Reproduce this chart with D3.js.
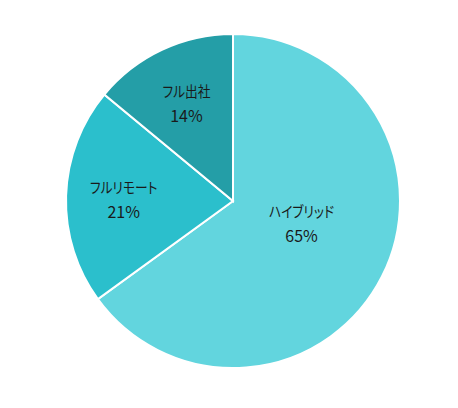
<!DOCTYPE html>
<html>
<head>
<meta charset="utf-8">
<script src="https://cdn.jsdelivr.net/npm/d3@7"></script>
<style>
  body { margin: 0; background: #fff; }
  text { font-family: "Noto Sans CJK JP", "Noto Sans", sans-serif; font-feature-settings: "palt" 1; }
</style>
</head>
<body>
<div id="chart"></div>
<script>
const categories = ["ハイブリッド", "フルリモート", "フル出社"]
const values = [65, 21, 14]
const colors = ["#62d5de", "#2bbfcc", "#249ea7"]

const WIDTH = 458
const HEIGHT = 408
const CX = 233
const CY = 201
const R = 167

const svg = d3.select("#chart")
  .append("svg")
    .attr("width", WIDTH)
    .attr("height", HEIGHT)

const g = svg.append("g")
  .attr("transform", `translate(${CX}, ${CY})`)

const pie = d3.pie()
  .sort(null)
  .value(d => d.value)

const data = categories.map((c, i) => ({ name: c, value: values[i], color: colors[i] }))
const arcs = pie(data)

const arc = d3.arc().innerRadius(0).outerRadius(R)

g.selectAll("path")
  .data(arcs)
  .enter().append("path")
    .attr("d", arc)
    .attr("fill", d => d.data.color)
    .attr("stroke", "#fff")
    .attr("stroke-width", 2)

// label spot: small slices sit out toward the rim, the big one nearer the middle
const labelPos = d => {
  const big = d.endAngle - d.startAngle > Math.PI
  const a = big ? (d.startAngle + d.endAngle) / 2 - 0.17 : (d.startAngle + d.endAngle) / 2
  return d3.pointRadial(a, big ? 0.43 * R : 0.655 * R)
}

const labels = g.selectAll(".label")
  .data(arcs)
  .enter().append("g")
    .attr("class", "label")
    .attr("transform", d => `translate(${labelPos(d)})`)

// the original font has narrow kana, so squeeze the names a little
labels.append("text")
  .attr("transform", "translate(0, -5) scale(0.85, 1)")
  .attr("text-anchor", "middle")
  .attr("font-size", 15)
  .attr("fill", "#1a1a1a")
  .text(d => d.data.name)

labels.append("text")
  .attr("y", 20)
  .attr("text-anchor", "middle")
  .attr("font-size", 16)
  .attr("fill", "#1a1a1a")
  .text(d => d.data.value + "%")
</script>
</body>
</html>
